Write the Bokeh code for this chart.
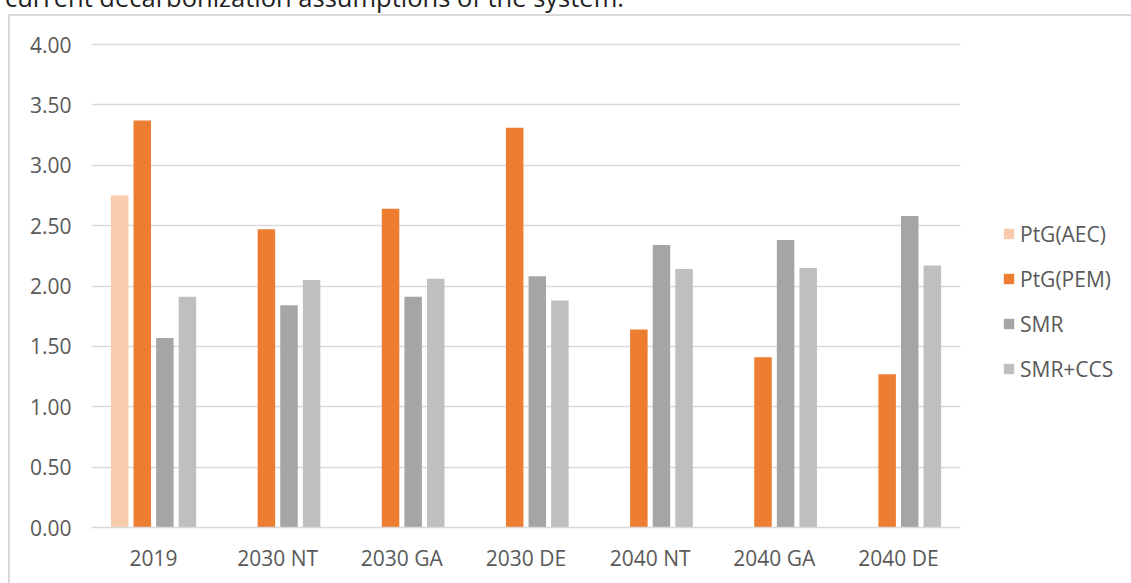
import math

from bokeh.plotting import figure
from bokeh.layouts import column
from bokeh.models import (ColumnDataSource, FactorRange, Range1d, FixedTicker,
                          NumeralTickFormatter, Legend, LegendItem, Div)
from bokeh.transform import dodge
from bokeh.embed import file_html
from bokeh.resources import INLINE

# Scenario categories on the x axis
scenarios = ["2019", "2030 NT", "2030 GA", "2030 DE", "2040 NT", "2040 GA", "2040 DE"]

# Hydrogen production cost per technology (NaN = not assessed)
ptg_aec = [2.75, math.nan, math.nan, math.nan, math.nan, math.nan, math.nan]
ptg_pem = [3.37, 2.47, 2.64, 3.31, 1.64, 1.41, 1.27]
smr = [1.57, 1.84, 1.91, 2.08, 2.34, 2.38, 2.58]
smr_ccs = [1.91, 2.05, 2.06, 1.88, 2.14, 2.15, 2.17]

y_ticks = [0.0, 0.5, 1.0, 1.5, 2.0, 2.5, 3.0, 3.5, 4.0]

series = [
    ("PtG(AEC)", ptg_aec, "#F8CBAD", -0.273),
    ("PtG(PEM)", ptg_pem, "#ED7D31", -0.091),
    ("SMR", smr, "#A5A5A5", 0.091),
    ("SMR+CCS", smr_ccs, "#BFBFBF", 0.273),
]

TEXT = "#595959"
GRID = "#D9D9D9"
FONT = "Open Sans"

p = figure(
    x_range=FactorRange(*scenarios),
    y_range=Range1d(0, 4.0166),
    frame_width=869, frame_height=485,
    min_border_left=91, min_border_right=171,
    min_border_top=42, min_border_bottom=56,
    output_backend="svg", toolbar_location=None,
)
p.outline_line_color = None
p.background_fill_color = "white"
p.border_fill_color = None

# chart area border: left and top edges of the surrounding box
p.styles = {
    "background-color": "white",
    "background-image": f"linear-gradient({GRID}, {GRID}), linear-gradient({GRID}, {GRID})",
    "background-size": "2px 100%, 100% 2px",
    "background-position": "8px 14px, 8px 14px",
    "background-repeat": "no-repeat",
}

items = []
for name, vals, color, offset in series:
    cats = [c for c, v in zip(scenarios, vals) if not math.isnan(v)]
    tops = [v for v in vals if not math.isnan(v)]
    src = ColumnDataSource(dict(x=cats, top=tops))
    r = p.vbar(x=dodge("x", offset, range=p.x_range), top="top", width=0.141,
               source=src, fill_color=color, line_color=None)
    items.append(LegendItem(label=name, renderers=[r]))

# axes
p.yaxis.ticker = FixedTicker(ticks=y_ticks)
p.yaxis.formatter = NumeralTickFormatter(format="0.00")
p.yaxis.axis_line_color = None
p.yaxis.major_tick_line_color = None
p.yaxis.minor_tick_line_color = None
p.yaxis.major_label_standoff = 14
p.yaxis.major_label_text_font = FONT
p.yaxis.major_label_text_font_size = "21px"
p.yaxis.major_label_text_color = TEXT

p.xaxis.axis_line_color = GRID
p.xaxis.axis_line_width = 1.5
p.xaxis.major_tick_line_color = None
p.xaxis.minor_tick_line_color = None
p.xaxis.major_label_standoff = 10
p.xaxis.major_label_text_font = FONT
p.xaxis.major_label_text_font_size = "21px"
p.xaxis.major_label_text_color = TEXT

p.xgrid.grid_line_color = None
p.ygrid.grid_line_color = GRID
p.ygrid.grid_line_width = 1.5

legend = Legend(
    items=items, location=(42, 144),
    label_text_font=FONT, label_text_font_size="21px", label_text_color=TEXT,
    glyph_width=13, glyph_height=13, label_standoff=5,
    label_width=100, label_height=29, spacing=16, padding=0, margin=0,
    border_line_color=None, background_fill_alpha=0,
)
p.add_layout(legend, "right")

# caption line of the surrounding document, running off the top edge
caption = Div(
    text="current decarbonization assumptions of the system.",
    width=1131, height=35,
    styles={
        "font-family": FONT, "font-size": "25.5px", "line-height": "35px",
        "color": "#1F1F1F", "white-space": "nowrap",
        "position": "absolute", "left": "0px", "top": "-25px", "z-index": "2",
    },
)

page = column(caption, p, spacing=0)

open("out.html", "w").write(file_html(page, INLINE))
